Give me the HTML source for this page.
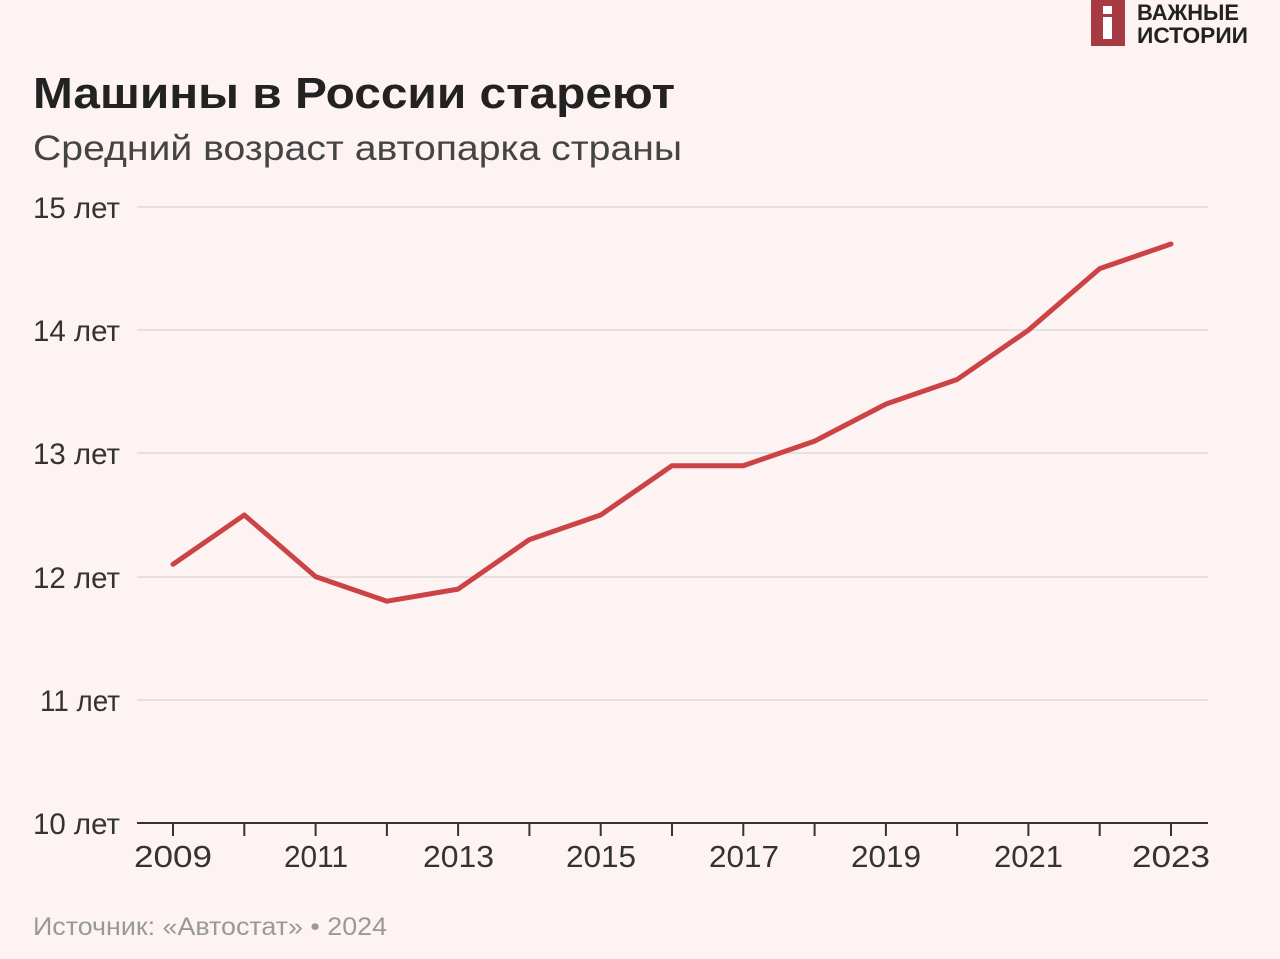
<!DOCTYPE html>
<html><head><meta charset="utf-8"><style>
body{margin:0;width:1280px;height:959px;background:#fdf3f3;overflow:hidden;font-family:"Liberation Sans",sans-serif}
</style></head><body>
<svg width="1280" height="959" xmlns="http://www.w3.org/2000/svg" style="position:absolute;left:0;top:0">
<rect x="1091" y="0" width="34" height="46" fill="#a83a42"/>
<rect x="1103" y="6" width="9" height="8" fill="#fff"/>
<rect x="1103" y="17" width="9" height="22" fill="#fff"/>
<text x="1137" y="20" font-size="22" font-weight="bold" fill="#222" textLength="102" lengthAdjust="spacingAndGlyphs" font-family="Liberation Sans,sans-serif">ВАЖНЫЕ</text>
<text x="1137" y="43" font-size="22" font-weight="bold" fill="#222" textLength="111" lengthAdjust="spacingAndGlyphs" font-family="Liberation Sans,sans-serif">ИСТОРИИ</text>
<text x="33" y="108" font-size="44" font-weight="bold" fill="#222" textLength="642" lengthAdjust="spacingAndGlyphs" font-family="Liberation Sans,sans-serif">Машины в России стареют</text>
<text x="33" y="160" font-size="35" fill="#444" textLength="649" lengthAdjust="spacingAndGlyphs" font-family="Liberation Sans,sans-serif">Средний возраст автопарка страны</text>
<g stroke="#e6e0e0" stroke-width="2">
<line x1="137" x2="1208" y1="207" y2="207"/><line x1="137" x2="1208" y1="330" y2="330"/>
<line x1="137" x2="1208" y1="453" y2="453"/><line x1="137" x2="1208" y1="577" y2="577"/>
<line x1="137" x2="1208" y1="700" y2="700"/>
</g>
<line x1="137" x2="1208" y1="823" y2="823" stroke="#333" stroke-width="2"/>
<g font-size="30" fill="#333" font-family="Liberation Sans,sans-serif">
<text x="33" y="218" textLength="87" lengthAdjust="spacingAndGlyphs">15 лет</text><text x="33" y="341" textLength="87" lengthAdjust="spacingAndGlyphs">14 лет</text><text x="33" y="464" textLength="87" lengthAdjust="spacingAndGlyphs">13 лет</text>
<text x="33" y="588" textLength="87" lengthAdjust="spacingAndGlyphs">12 лет</text><text x="40" y="711" textLength="80" lengthAdjust="spacingAndGlyphs">11 лет</text><text x="33" y="834" textLength="87" lengthAdjust="spacingAndGlyphs">10 лет</text>
</g>
<g stroke="#333" stroke-width="2">
<line x1="173" x2="173" y1="823" y2="836"/><line x1="244.3" x2="244.3" y1="823" y2="836"/><line x1="315.6" x2="315.6" y1="823" y2="836"/><line x1="386.9" x2="386.9" y1="823" y2="836"/><line x1="458.1" x2="458.1" y1="823" y2="836"/><line x1="529.4" x2="529.4" y1="823" y2="836"/><line x1="600.7" x2="600.7" y1="823" y2="836"/><line x1="672" x2="672" y1="823" y2="836"/><line x1="743.3" x2="743.3" y1="823" y2="836"/><line x1="814.6" x2="814.6" y1="823" y2="836"/><line x1="885.9" x2="885.9" y1="823" y2="836"/><line x1="957.1" x2="957.1" y1="823" y2="836"/><line x1="1028.4" x2="1028.4" y1="823" y2="836"/><line x1="1099.7" x2="1099.7" y1="823" y2="836"/><line x1="1171" x2="1171" y1="823" y2="836"/>
</g>
<g font-size="31" fill="#333" font-family="Liberation Sans,sans-serif">
<text x="134" y="867" textLength="78" lengthAdjust="spacingAndGlyphs">2009</text><text x="284" y="867" textLength="64" lengthAdjust="spacingAndGlyphs">2011</text><text x="423" y="867" textLength="71" lengthAdjust="spacingAndGlyphs">2013</text><text x="566" y="867" textLength="70" lengthAdjust="spacingAndGlyphs">2015</text><text x="709" y="867" textLength="70" lengthAdjust="spacingAndGlyphs">2017</text><text x="851" y="867" textLength="70" lengthAdjust="spacingAndGlyphs">2019</text><text x="994" y="867" textLength="69" lengthAdjust="spacingAndGlyphs">2021</text><text x="1132" y="867" textLength="78" lengthAdjust="spacingAndGlyphs">2023</text>
</g>
<polyline fill="none" stroke="#cc4345" stroke-width="5" stroke-linejoin="round" stroke-linecap="round" points="173,564.3 244.3,515 315.6,576.6 386.9,601.2 458.1,589.1 529.4,539.6 600.7,515 672,465.7 743.3,465.7 814.6,441.1 885.9,404.1 957.1,379.5 1028.4,330.2 1099.7,268.6 1171,244"/>
<text x="33" y="935" font-size="25" fill="#999" textLength="354" lengthAdjust="spacingAndGlyphs" font-family="Liberation Sans,sans-serif">Источник: «Автостат» • 2024</text>
</svg>
</body></html>
